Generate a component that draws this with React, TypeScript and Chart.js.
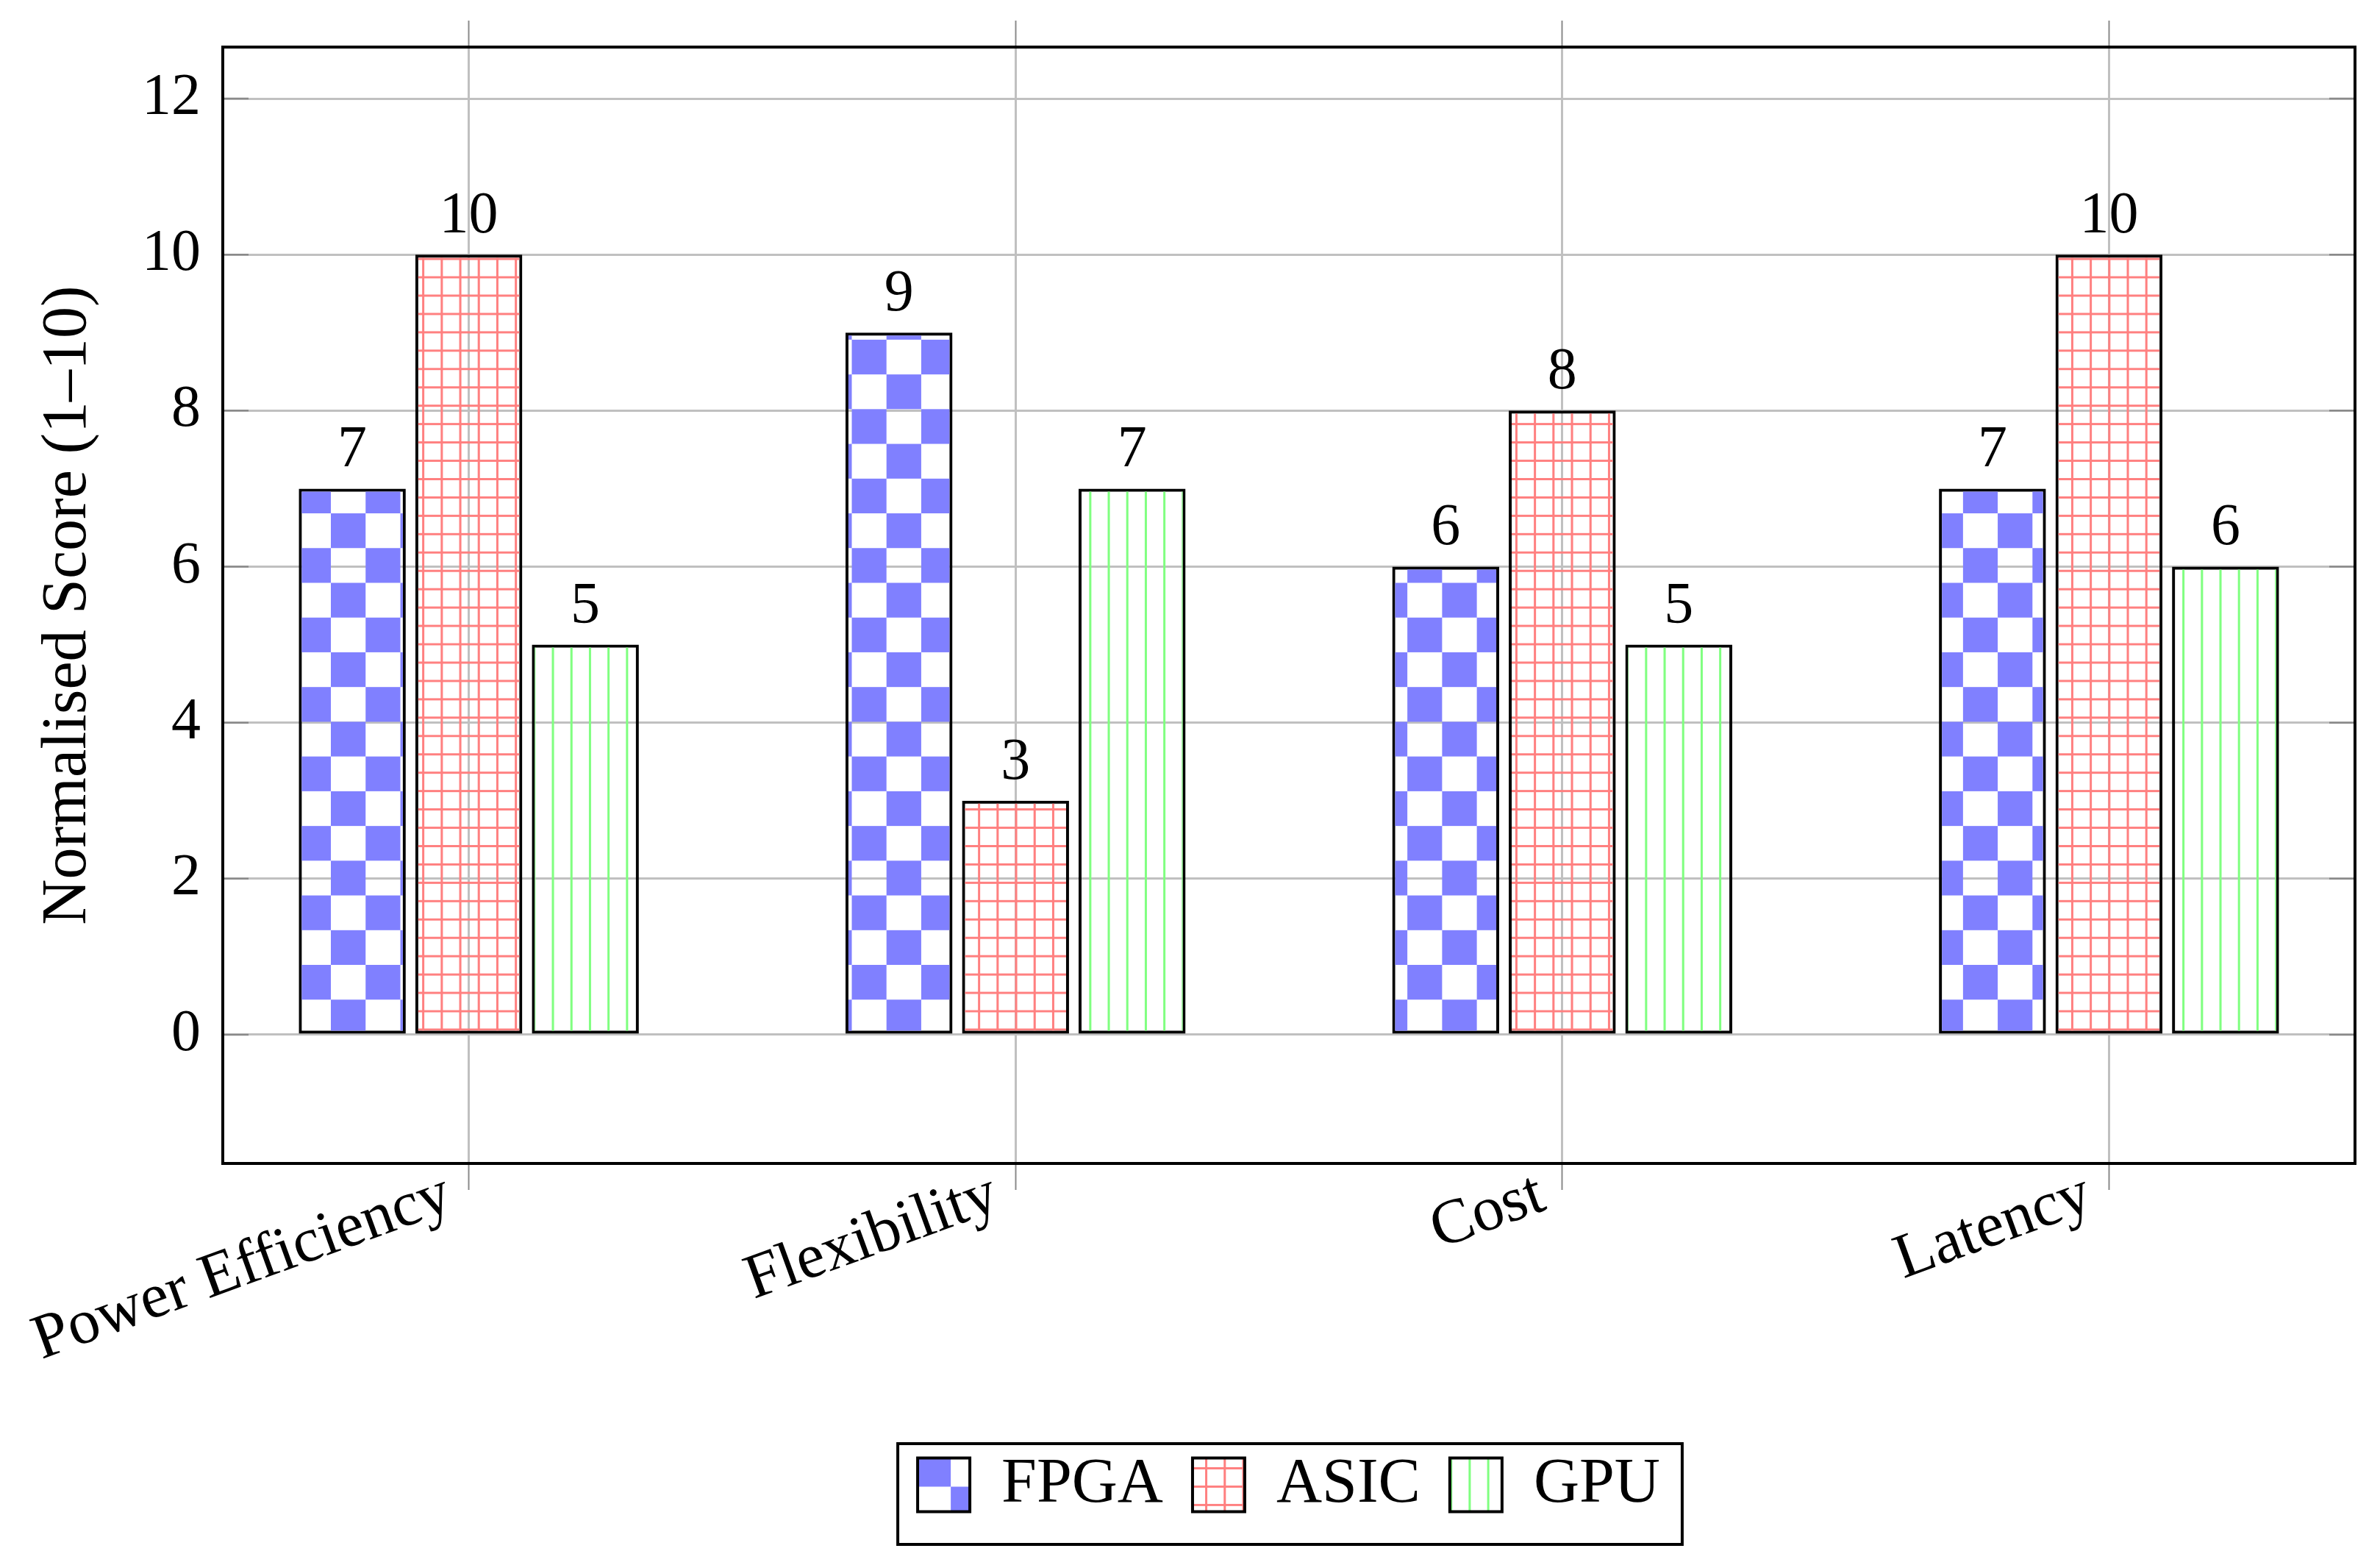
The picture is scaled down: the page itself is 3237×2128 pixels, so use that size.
import { useEffect, useRef } from "react"
import { Chart, registerables } from "chart.js"

Chart.register(...registerables)

const categories = ["Power Efficiency", "Flexibility", "Cost", "Latency"]
const seriesNames = ["FPGA", "ASIC", "GPU"]
const fpgaScores = [7, 9, 6, 7]
const asicScores = [10, 3, 8, 10]
const gpuScores = [5, 7, 5, 6]
const yTicks = [0, 2, 4, 6, 8, 10, 12]

const BLUE = "#8080ff"
const RED = "#ff8080"
const GREEN = "#80ff80"
const GRID = "#c0c0c0"
const TICK = "#8a8a8a"
const SERIF = "'Liberation Serif', 'Times New Roman', serif"

const CELL = 47.23 // checker cell
const STEP_X = 25.2 // line spacing
const STEP_Y = 24.95

function tile(w: number, h: number, draw: (g: CanvasRenderingContext2D) => void) {
  const c = document.createElement("canvas")
  c.width = w
  c.height = h
  const g = c.getContext("2d")!
  draw(g)
  return c
}

function checkerPattern(ctx: CanvasRenderingContext2D) {
  const c = tile(96, 96, (g) => {
    g.fillStyle = BLUE
    g.fillRect(0, 0, 48, 48)
    g.fillRect(48, 48, 48, 48)
  })
  return ctx.createPattern(c, "repeat")!
}

function linePattern(ctx: CanvasRenderingContext2D, color: string, horizontal: boolean) {
  const c = tile(25, 25, (g) => {
    g.fillStyle = color
    g.fillRect(11, 0, 3, 25)
    if (horizontal) g.fillRect(0, 11, 25, 3)
  })
  return ctx.createPattern(c, "repeat")!
}

function place(p: CanvasPattern, x: number, y: number, sx: number, sy: number) {
  p.setTransform(new DOMMatrix().translate(x, y).scale(sx, sy))
}

export default function App() {
  const chartRef = useRef<HTMLCanvasElement>(null)
  const chartInstance = useRef<Chart | null>(null)

  useEffect(() => {
    document.body.style.margin = "0"
    if (!chartRef.current) return
    if (chartInstance.current) chartInstance.current.destroy()

    const ctx = chartRef.current.getContext("2d")
    if (!ctx) return

    // bar fills, anchored to the page like the original patterns
    const fpgaFill = checkerPattern(ctx)
    const asicFill = linePattern(ctx, RED, true)
    const gpuFill = linePattern(ctx, GREEN, false)
    place(fpgaFill, 450 - CELL, 698 - CELL, CELL / 48, CELL / 48)
    place(asicFill, 752 - 12.5 * (STEP_X / 25), 576.6 - 12.5 * (STEP_Y / 25), STEP_X / 25, STEP_Y / 25)
    place(gpuFill, 752 - 12.5 * (STEP_X / 25), 0, STEP_X / 25, 1)

    // separate fills for the legend swatches
    const legendFills = [checkerPattern(ctx), linePattern(ctx, RED, true), linePattern(ctx, GREEN, false)]

    const makeData = (values: number[]) => categories.map((_, i) => ({ x: i, y: values[i] }))
    const fills = [fpgaFill, asicFill, gpuFill]
    const values = [fpgaScores, asicScores, gpuScores]

    const boxW = 71
    const boxH = 73
    const legendFont = 86

    const extras = {
      id: "extras",
      beforeDraw(chart: any) {
        const hb = chart.legend?.legendHitBoxes || []
        hb.forEach((h: any, i: number) => {
          const left = h.left
          const top = h.top + Math.max((legendFont - boxH) / 2, 0)
          if (i === 0) place(legendFills[0], left + 45 - CELL, top + 39 - CELL, CELL / 48, CELL / 48)
          if (i === 1) place(legendFills[1], left + 18.6 - 12.6, top + 14 - 12.5, STEP_X / 25, STEP_Y / 25)
          if (i === 2) place(legendFills[2], left + 27 - 12.6, 0, STEP_X / 25, 1)
        })
      },
      beforeDatasetsDraw(chart: any) {
        const { ctx: c, chartArea: a } = chart
        const y = chart.scales.y
        c.save()
        c.strokeStyle = TICK
        c.lineWidth = 2.5
        y.ticks.forEach((t: any) => {
          const py = y.getPixelForValue(t.value)
          c.beginPath()
          c.moveTo(a.left, py)
          c.lineTo(a.left + 35, py)
          c.moveTo(a.right - 35, py)
          c.lineTo(a.right, py)
          c.stroke()
        })
        c.restore()
      },
      afterDatasetsDraw(chart: any) {
        const { ctx: c, chartArea: a } = chart
        c.save()
        c.fillStyle = "#000"
        c.font = `80px ${SERIF}`
        c.textAlign = "center"
        c.textBaseline = "alphabetic"
        chart.data.datasets.forEach((ds: any, i: number) => {
          chart.getDatasetMeta(i).data.forEach((bar: any, j: number) => {
            c.fillText(String(ds.data[j].y), bar.x, bar.y - 30)
          })
        })
        c.strokeStyle = "#000"
        c.lineWidth = 4
        c.strokeRect(a.left, a.top, a.width, a.height)
        c.restore()
      },
      afterDraw(chart: any) {
        const hb = chart.legend?.legendHitBoxes || []
        if (!hb.length) return
        const c = chart.ctx
        const first = hb[0]
        const last = hb[hb.length - 1]
        const left = first.left - 27
        const right = last.left + last.width + 30
        const top = first.top - 13
        const bottom = first.top + legendFont + 38
        c.save()
        c.strokeStyle = "#000"
        c.lineWidth = 4
        c.strokeRect(left, top, right - left, bottom - top)
        c.restore()
      },
    }

    const xTicks = (s: any) => {
      s.ticks = categories.map((_, i) => ({ value: i }))
    }

    chartInstance.current = new Chart(ctx, {
      type: "bar",
      data: {
        datasets: seriesNames.map((name, i) => ({
          label: name,
          data: makeData(values[i]),
          backgroundColor: fills[i],
          borderColor: "#000",
          borderWidth: 4,
          borderSkipped: false,
          categoryPercentage: 0.6395,
          barPercentage: 0.918,
          xAxisID: "x",
          yAxisID: "y",
        })),
      },
      options: {
        responsive: true,
        maintainAspectRatio: false,
        animation: false,
        events: [],
        layout: { padding: { left: 0, right: 34, top: 28, bottom: 56 } },
        scales: {
          x: {
            type: "linear",
            position: "bottom",
            min: -0.45,
            max: 3.45,
            offset: false,
            afterBuildTicks: xTicks,
            afterFit: (s: any) => {
              s.height = 354
              s.paddingLeft = 0
              s.paddingRight = 0
            },
            grid: {
              offset: false,
              color: GRID,
              lineWidth: 3,
              tickColor: TICK,
              tickWidth: 2,
              tickLength: 36,
            },
            border: { display: false },
            ticks: {
              autoSkip: false,
              minRotation: 20,
              maxRotation: 20,
              padding: -44,
              labelOffset: -27,
              color: "#000",
              font: { family: SERIF, size: 86 },
              callback: (v: any) => categories[v] ?? "",
            },
          },
          xTop: {
            type: "linear",
            position: "top",
            min: -0.45,
            max: 3.45,
            offset: false,
            afterBuildTicks: xTicks,
            afterFit: (s: any) => {
              s.height = 36
              s.paddingLeft = 0
              s.paddingRight = 0
            },
            grid: {
              offset: false,
              drawOnChartArea: false,
              tickColor: TICK,
              tickWidth: 2,
              tickLength: 36,
            },
            border: { display: false },
            ticks: { display: false },
          },
          y: {
            type: "linear",
            min: -1.65,
            max: 12.66,
            afterBuildTicks: (s: any) => {
              s.ticks = yTicks.map((v) => ({ value: v }))
            },
            afterFit: (s: any) => {
              s.width = 303
              s.paddingTop = 0
              s.paddingBottom = 0
            },
            grid: { color: GRID, lineWidth: 3, drawTicks: false },
            border: { display: false },
            ticks: { padding: 30, color: "#000", font: { family: SERIF, size: 80 } },
            title: {
              display: true,
              text: "Normalised Score (1–10)",
              color: "#000",
              font: { family: SERIF, size: 86 },
              padding: { top: 42, bottom: 0 },
            },
          },
        },
        plugins: {
          tooltip: { enabled: false },
          legend: {
            position: "bottom",
            fullSize: false,
            labels: {
              boxWidth: boxW,
              boxHeight: boxH,
              padding: 40,
              color: "#000",
              font: { family: SERIF, size: legendFont },
              generateLabels: (chart: any) =>
                Chart.defaults.plugins.legend.labels.generateLabels(chart).map((item: any, i: number) => ({
                  ...item,
                  fillStyle: legendFills[i],
                  strokeStyle: "#000",
                  lineWidth: 4,
                })),
            },
          },
        },
      } as any,
      plugins: [extras],
    })

    return () => {
      if (chartInstance.current) {
        chartInstance.current.destroy()
        chartInstance.current = null
      }
    }
  }, [])

  return (
    <div style={{ position: "fixed", left: 0, top: 0, width: 3237, height: 2128, background: "#fff" }}>
      <canvas ref={chartRef} />
    </div>
  )
}
